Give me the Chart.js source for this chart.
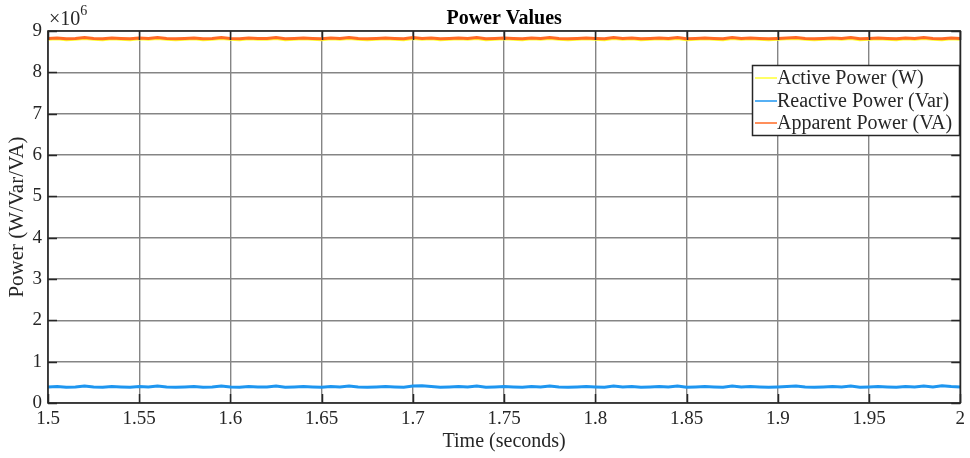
<!DOCTYPE html>
<html>
<head>
<meta charset="utf-8">
<script src="https://cdn.jsdelivr.net/npm/chart.js@4.4.1/dist/chart.umd.min.js"></script>
<style>
  html, body { margin: 0; padding: 0; background: #fff; }
  #wrap { width: 970px; height: 458px; position: relative; }
</style>
</head>
<body>
<div id="wrap"><canvas id="powerChart"></canvas></div>
<script>
// ── DATA (values in units of 10^6, sampled every 5 ms from 1.5 s) ──
const T_START = 1.5;
const T_STEP = 0.005;
const X_TICKS = [1.5, 1.55, 1.6, 1.65, 1.7, 1.75, 1.8, 1.85, 1.9, 1.95, 2];
const Y_TICKS = [0, 1, 2, 3, 4, 5, 6, 7, 8, 9];

const activePower = [
  8.80, 8.81, 8.79, 8.80, 8.82, 8.80, 8.79, 8.81, 8.80, 8.79,
  8.81, 8.80, 8.82, 8.80, 8.79, 8.80, 8.81, 8.79, 8.80, 8.82,
  8.80, 8.79, 8.81, 8.80, 8.80, 8.82, 8.79, 8.80, 8.81, 8.80,
  8.79, 8.81, 8.80, 8.82, 8.80, 8.79, 8.80, 8.81, 8.80, 8.79,
  8.82, 8.80, 8.81, 8.79, 8.80, 8.81, 8.80, 8.82, 8.79, 8.80,
  8.81, 8.80, 8.79, 8.81, 8.80, 8.82, 8.80, 8.79, 8.80, 8.81,
  8.80, 8.79, 8.82, 8.80, 8.81, 8.79, 8.80, 8.81, 8.80, 8.82,
  8.79, 8.80, 8.81, 8.80, 8.79, 8.82, 8.80, 8.81, 8.80, 8.79,
  8.80, 8.81, 8.82, 8.80, 8.79, 8.80, 8.81, 8.80, 8.82, 8.79,
  8.80, 8.81, 8.80, 8.79, 8.81, 8.80, 8.82, 8.80, 8.79, 8.81,
  8.80
];

const reactivePower = [
  0.39, 0.40, 0.38, 0.39, 0.41, 0.39, 0.38, 0.40, 0.39, 0.38,
  0.40, 0.39, 0.41, 0.39, 0.38, 0.39, 0.40, 0.38, 0.39, 0.41,
  0.39, 0.38, 0.40, 0.39, 0.39, 0.41, 0.38, 0.39, 0.40, 0.39,
  0.38, 0.40, 0.39, 0.41, 0.39, 0.38, 0.39, 0.40, 0.39, 0.38,
  0.41, 0.42, 0.40, 0.38, 0.39, 0.40, 0.39, 0.41, 0.38, 0.39,
  0.40, 0.39, 0.38, 0.40, 0.39, 0.41, 0.39, 0.38, 0.39, 0.40,
  0.39, 0.38, 0.41, 0.39, 0.40, 0.38, 0.39, 0.40, 0.39, 0.41,
  0.38, 0.39, 0.40, 0.39, 0.38, 0.41, 0.39, 0.40, 0.39, 0.38,
  0.39, 0.40, 0.41, 0.39, 0.38, 0.39, 0.40, 0.39, 0.41, 0.38,
  0.39, 0.40, 0.39, 0.38, 0.40, 0.39, 0.41, 0.39, 0.42, 0.40,
  0.39
];

const apparentPower = [
  8.82, 8.83, 8.81, 8.82, 8.84, 8.82, 8.81, 8.83, 8.82, 8.81,
  8.83, 8.82, 8.84, 8.82, 8.81, 8.82, 8.83, 8.81, 8.82, 8.84,
  8.82, 8.81, 8.83, 8.82, 8.82, 8.84, 8.81, 8.82, 8.83, 8.82,
  8.81, 8.83, 8.82, 8.84, 8.82, 8.81, 8.82, 8.83, 8.82, 8.81,
  8.84, 8.82, 8.83, 8.81, 8.82, 8.83, 8.82, 8.84, 8.81, 8.82,
  8.83, 8.82, 8.81, 8.83, 8.82, 8.84, 8.82, 8.81, 8.82, 8.83,
  8.82, 8.81, 8.84, 8.82, 8.83, 8.81, 8.82, 8.83, 8.82, 8.84,
  8.81, 8.82, 8.83, 8.82, 8.81, 8.84, 8.82, 8.83, 8.82, 8.81,
  8.82, 8.83, 8.84, 8.82, 8.81, 8.82, 8.83, 8.82, 8.84, 8.81,
  8.82, 8.83, 8.82, 8.81, 8.83, 8.82, 8.84, 8.82, 8.81, 8.83,
  8.82
];

const SERIES_NAMES = ['Active Power (W)', 'Reactive Power (Var)', 'Apparent Power (VA)'];
const SERIES_COLORS = ['#ffff33', '#1e96f0', '#ff6a24'];

// ── HELPERS ──────────────────────────────────────────────────
const SERIF = '"Liberation Serif", "Times New Roman", serif';

function toPoints(values) {
  return values.map((v, i) => ({ x: T_START + i * T_STEP, y: v }));
}

// MATLAB-style box, inward ticks, exponent label, title, legend
const matlabDecor = {
  id: 'matlabDecor',
  afterDatasetsDraw(chart) {
    const { ctx, chartArea: a, scales } = chart;
    ctx.save();

    // inward ticks
    ctx.strokeStyle = '#262626';
    ctx.lineWidth = 1.5;
    const TL = 9;
    X_TICKS.forEach(t => {
      const x = Math.round(scales.x.getPixelForValue(t)) + 0.5;
      ctx.beginPath();
      ctx.moveTo(x, a.bottom); ctx.lineTo(x, a.bottom - TL);
      ctx.moveTo(x, a.top);    ctx.lineTo(x, a.top + TL);
      ctx.stroke();
    });
    Y_TICKS.forEach(t => {
      const y = Math.round(scales.y.getPixelForValue(t)) + 0.5;
      ctx.beginPath();
      ctx.moveTo(a.left, y);  ctx.lineTo(a.left + TL, y);
      ctx.moveTo(a.right, y); ctx.lineTo(a.right - TL, y);
      ctx.stroke();
    });

    // axes box
    ctx.lineWidth = 1.6;
    ctx.strokeRect(a.left, a.top, a.right - a.left, a.bottom - a.top);

    // exponent label
    ctx.fillStyle = '#262626';
    ctx.textBaseline = 'alphabetic';
    ctx.textAlign = 'left';
    ctx.font = '20px ' + SERIF;
    ctx.fillText('\u00d710', a.left + 1, a.top - 6);
    const w = ctx.measureText('\u00d710').width;
    ctx.font = '14px ' + SERIF;
    ctx.fillText('6', a.left + 1 + w, a.top - 16);

    // title
    ctx.fillStyle = '#000';
    ctx.font = 'bold 20px ' + SERIF;
    ctx.textAlign = 'center';
    ctx.fillText('Power Values', (a.left + a.right) / 2, a.top - 7);

    // legend
    const lx = 752, ly = 65, lw = 207, lh = 70;
    ctx.fillStyle = '#fff';
    ctx.fillRect(lx, ly, lw, lh);
    ctx.strokeStyle = '#262626';
    ctx.lineWidth = 1.5;
    ctx.strokeRect(lx + 0.5, ly + 0.5, lw, lh);
    ctx.font = '20px ' + SERIF;
    ctx.textAlign = 'left';
    ctx.textBaseline = 'middle';
    const rows = [78, 101, 123];
    SERIES_NAMES.forEach((name, i) => {
      ctx.strokeStyle = SERIES_COLORS[i];
      ctx.lineWidth = 1.5;
      ctx.beginPath();
      ctx.moveTo(lx + 3, rows[i]); ctx.lineTo(lx + 25, rows[i]);
      ctx.stroke();
      ctx.fillStyle = '#262626';
      ctx.fillText(name, lx + 25, rows[i] + 1);
    });

    ctx.restore();
  }
};

// ── CHART ────────────────────────────────────────────────────
new Chart(document.getElementById('powerChart'), {
  type: 'line',
  data: {
    datasets: [
      { label: SERIES_NAMES[0], data: toPoints(activePower),   borderColor: SERIES_COLORS[0], order: 3 },
      { label: SERIES_NAMES[1], data: toPoints(reactivePower), borderColor: SERIES_COLORS[1], order: 2 },
      { label: SERIES_NAMES[2], data: toPoints(apparentPower), borderColor: SERIES_COLORS[2], order: 1 }
    ]
  },
  options: {
    responsive: true,
    maintainAspectRatio: false,
    animation: false,
    datasets: { line: { borderWidth: 3, pointRadius: 0, tension: 0 } },
    layout: { padding: { left: 0, top: 31, right: 9, bottom: 0 } },
    plugins: { legend: { display: false }, title: { display: false }, tooltip: { enabled: false } },
    scales: {
      x: {
        type: 'linear',
        min: 1.5, max: 2,
        afterBuildTicks: s => { s.ticks = X_TICKS.map(v => ({ value: v })); },
        afterFit: s => { s.height = 55; },
        ticks: {
          color: '#262626', font: { family: SERIF, size: 19 }, padding: 5,
          maxRotation: 0, autoSkip: false,
          callback: v => String(Number(v.toFixed(2)))
        },
        grid: { color: '#858585', lineWidth: 1.4, drawTicks: false },
        border: { display: false },
        title: { display: true, text: 'Time (seconds)', color: '#262626', font: { family: SERIF, size: 20 }, padding: { top: 0, bottom: 4 } }
      },
      y: {
        min: 0, max: 9,
        afterBuildTicks: s => { s.ticks = Y_TICKS.map(v => ({ value: v })); },
        afterFit: s => { s.width = 48; },
        ticks: { color: '#262626', font: { family: SERIF, size: 19 }, padding: 6, autoSkip: false },
        grid: { color: '#858585', lineWidth: 1.4, drawTicks: false },
        border: { display: false },
        title: { display: true, text: 'Power (W/Var/VA)', color: '#262626', font: { family: SERIF, size: 21 }, padding: { top: 5, bottom: 0 } }
      }
    }
  },
  plugins: [matlabDecor]
});
</script>
</body>
</html>
